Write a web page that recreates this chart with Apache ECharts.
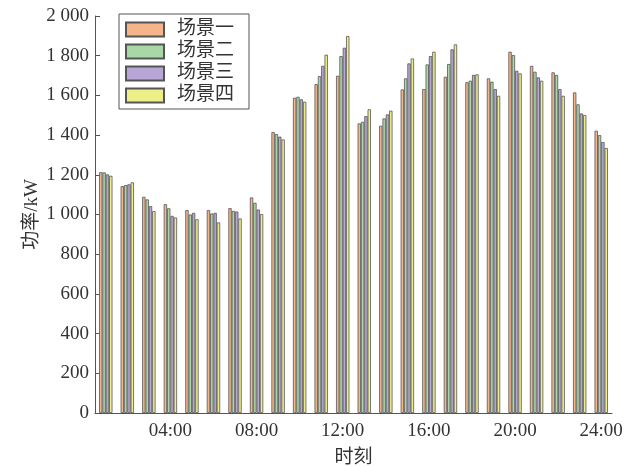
<!DOCTYPE html>
<html>
<head>
<meta charset="utf-8">
<script src="https://cdn.jsdelivr.net/npm/echarts@6/dist/echarts.min.js"></script>
<style>html,body{margin:0;padding:0;background:#fff}#c{width:637px;height:467px}</style>
</head>
<body>
<div id="c"></div>
<script>
const categories = ["01:00","02:00","03:00","04:00","05:00","06:00","07:00","08:00","09:00","10:00","11:00","12:00","13:00","14:00","15:00","16:00","17:00","18:00","19:00","20:00","21:00","22:00","23:00","24:00"];
const seriesNames = ["场景一","场景二","场景三","场景四"];
const scene1 = [1213,1143,1089,1052,1022,1022,1032,1086,1415,1588,1657,1699,1459,1447,1630,1632,1694,1666,1686,1820,1749,1716,1615,1422];
const scene2 = [1212,1148,1076,1031,1000,1005,1018,1059,1405,1593,1697,1798,1467,1484,1686,1756,1758,1674,1669,1803,1719,1703,1555,1400];
const scene3 = [1202,1152,1042,993,1008,1008,1015,1025,1392,1580,1749,1840,1496,1504,1761,1798,1832,1703,1632,1724,1691,1632,1509,1365];
const scene4 = [1195,1162,1017,985,976,960,980,1002,1378,1568,1805,1899,1530,1523,1786,1820,1857,1706,1598,1711,1674,1598,1501,1335];
const colors = ["#F6B48A","#A8D8A6","#B8A6D6","#EEEE88"];

const font = "'Liberation Serif','Noto Sans CJK SC',serif";
const chart = echarts.init(document.getElementById('c'));
const dataSets = [scene1, scene2, scene3, scene4];
chart.setOption({
  animation: false,
  textStyle: {fontFamily: font},
  grid: {left: 95, right: 25, top: 16, bottom: 54, containLabel: false, outerBoundsMode: 'none'},
  legend: {
    data: seriesNames,
    orient: 'vertical',
    icon: 'rect',
    left: 119, top: 14,
    itemWidth: 38, itemHeight: 14, itemGap: 3,
    padding: [6, 15, 4, 6],
    borderColor: '#555', borderWidth: 1,
    textStyle: {fontSize: 19, lineHeight: 15.5, color: '#333', fontFamily: font, padding: [0,0,0,8]}
  },
  xAxis: {
    type: 'category',
    data: categories,
    name: '时刻',
    nameLocation: 'middle',
    nameGap: 36,
    nameMoveOverlap: false,
    nameTextStyle: {fontSize: 19, color: '#333', fontFamily: font},
    axisLine: {lineStyle: {color: '#555', width: 1}},
    axisTick: {show: false},
    axisLabel: {
      interval: function (idx) { return (idx + 1) % 4 === 0; },
      fontSize: 19, color: '#333', margin: 9, fontFamily: font
    }
  },
  yAxis: {
    type: 'value',
    min: 0, max: 2000, interval: 200,
    name: '功率/kW',
    nameLocation: 'middle',
    nameGap: 53,
    nameMoveOverlap: false,
    nameTextStyle: {fontSize: 19, color: '#333', fontFamily: font},
    axisLine: {show: true, lineStyle: {color: '#555', width: 1}},
    axisTick: {show: true, inside: true, length: 5, lineStyle: {color: '#555'}},
    splitLine: {show: false},
    axisLabel: {
      fontSize: 19, color: '#333', margin: 6, fontFamily: font,
      formatter: function (v) { return String(v).replace(/\B(?=(\d{3})+(?!\d))/g, ' '); }
    }
  },
  series: seriesNames.map((n, i) => ({
    name: n,
    type: 'bar',
    data: dataSets[i],
    barGap: '0%',
    barCategoryGap: '38%',
    itemStyle: {color: colors[i], borderColor: '#555', borderWidth: 0.8}
  }))
});
</script>
</body>
</html>
